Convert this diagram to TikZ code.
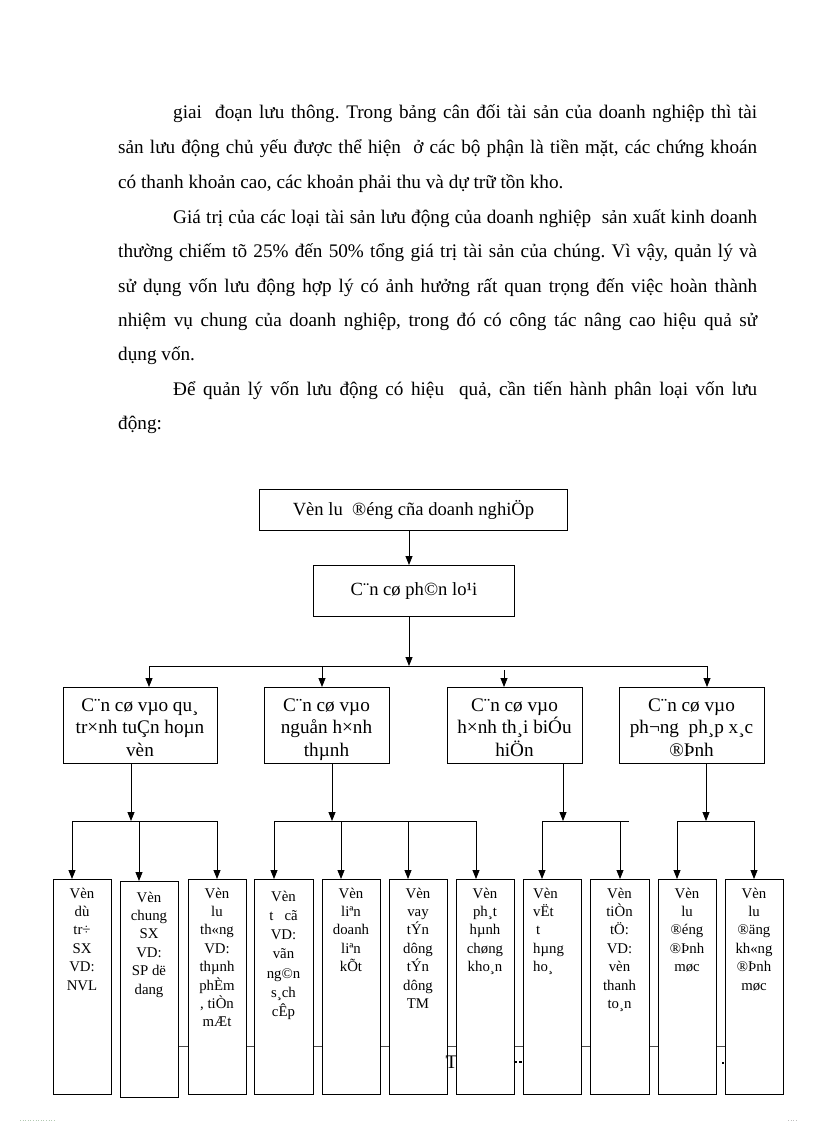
\documentclass[tikz,border=0pt]{standalone}
\usepackage{fontspec}
\setmainfont{Liberation Serif}
\usetikzlibrary{arrows.meta}
\newcommand{\bigf}{\fontsize{19.2}{22.5}\selectfont}
\newcommand{\topf}{\fontsize{18.6}{22.5}\selectfont}
\newcommand{\smf}{\fontsize{14.8}{18.4}\selectfont}
\newcommand{\pline}[2]{\makebox[#1][s]{#2}}
\newcommand{\btx}[1]{\parbox[t]{58pt}{\centering\smf #1}}
\newcommand{\mtx}[1]{\parbox[t]{150pt}{\centering\bigf #1}}
\frenchspacing
\begin{document}
\begin{tikzpicture}[x=1pt,y=-1pt,
  box/.style={draw=black, line width=1pt, fill=white, inner sep=0pt, anchor=north west},
  bigbox/.style={box, font=\topf, align=center},
  para/.style={anchor=base west, inner sep=0pt, font=\bigf},
  btext/.style={anchor=base, inner sep=0pt},
  arr/.style={-{Triangle[length=9pt,width=7pt]}, line width=0.8pt},
  ln/.style={line width=0.8pt}]
\useasboundingbox (0,0) rectangle (816,1123);
\fill[white] (0,0) rectangle (816,1123);

% paragraph text
\node[para] (l1) at (173,119) {\pline{584pt}{giai\ \ đoạn lưu thông. Trong bảng cân đối tài sản của doanh nghiệp thì tài}};
\node[para] (l2) at (118,154) {\pline{639pt}{sản lưu động chủ yếu được thể hiện\ \ ở các bộ phận là tiền mặt, các chứng khoán}};
\node[para] (l3) at (118,189) {có thanh khoản cao, các khoản phải thu và dự trữ tồn kho.};
\node[para] (l4) at (173,223) {\pline{584pt}{Giá trị của các loại tài sản lưu động của doanh nghiệp\ \ sản xuất kinh doanh}};
\node[para] (l5) at (118,257) {\pline{639pt}{thường chiếm tõ 25\% đến 50\% tổng giá trị tài sản của chúng. Vì vậy, quản lý và}};
\node[para] (l6) at (118,292) {\pline{639pt}{sử dụng vốn lưu động hợp lý có ảnh hưởng rất quan trọng đến việc hoàn thành}};
\node[para] (l7) at (118,326) {\pline{639pt}{nhiệm vụ chung của doanh nghiệp, trong đó có công tác nâng cao hiệu quả sử}};
\node[para] (l8) at (118,360) {dụng vốn.};
\node[para] (l9) at (173,395) {\pline{584pt}{Để quản lý vốn lưu động có hiệu\ \ quả, cần tiến hành phân loại vốn lưu}};
\node[para] (l10) at (118,429) {động:};

% footer rule behind the boxes
\draw[line width=1pt, black!70] (170,1046) -- (740,1046);

% top boxes
\node[bigbox, minimum width=308pt, minimum height=41pt] (A) at (259,489) {Vèn lu\ \ ®éng cña doanh nghiÖp};
\node[bigbox, minimum width=201pt, minimum height=51pt] (B) at (313,565) {C¨n cø ph©n lo¹i};

% middle boxes
\node[box, minimum width=154pt, minimum height=76pt] (m1) at (63,687) {};
\node[box, minimum width=125pt, minimum height=76pt] (m2) at (264,687) {};
\node[box, minimum width=135pt, minimum height=76pt] (m3) at (447,687) {};
\node[box, minimum width=145pt, minimum height=76pt] (m4) at (619,687) {};
\node[btext] (mt1) at (140,711) {\mtx{C¨n cø vµo qu¸\\tr×nh tuÇn hoµn\\vèn}};
\node[btext] (mt2) at (326.5,711) {\mtx{C¨n cø vµo\\nguån h×nh\\thµnh}};
\node[btext] (mt3) at (514.5,711) {\mtx{C¨n cø vµo\\h×nh th¸i biÓu\\hiÖn}};
\node[btext] (mt4) at (691.5,711) {\mtx{C¨n cø vµo\\ph¬ng\ \ ph¸p x¸c\\®Þnh}};

% connectors top
\coordinate (a1) at (409,530);
\draw[arr] (A.south -| a1) -- (B.north -| a1);
\coordinate (bj) at (409,666);
\coordinate (busL) at (149,666);
\coordinate (busR) at (707,666);
\coordinate (bus2) at (322,666);
\coordinate (bus3) at (504,670);
\draw[arr] (B.south -| bj) -- (bj);
\draw[ln] (busL) -- (busR);
\draw[arr] (busL) -- (busL |- m1.north);
\draw[arr] (bus2) -- (bus2 |- m2.north);
\draw[arr] (bus3) -- (bus3 |- m3.north);
\draw[arr] (busR) -- (busR |- m4.north);

% bottom boxes
\node[box, minimum width=58pt, minimum height=215pt] (b1) at (53,879) {};
\node[box, minimum width=58pt, minimum height=216pt] (b2) at (120,881) {};
\node[box, minimum width=58pt, minimum height=215pt] (b3) at (188,879) {};
\node[box, minimum width=59pt, minimum height=215pt] (b4) at (254,879) {};
\node[box, minimum width=58pt, minimum height=215pt] (b5) at (322,879) {};
\node[box, minimum width=58pt, minimum height=215pt] (b6) at (389,879) {};
\node[box, minimum width=58pt, minimum height=215pt] (b7) at (456,879) {};
\node[box, minimum width=58pt, minimum height=215pt] (b8) at (523,879) {};
\node[box, minimum width=59pt, minimum height=215pt] (b9) at (590,879) {};
\node[box, minimum width=58pt, minimum height=215pt] (b10) at (658,879) {};
\node[box, minimum width=58pt, minimum height=215pt] (b11) at (725,879) {};

\node[btext] (t1) at (82,898) {\btx{Vèn\\dù\\tr÷\\SX\\VD:\\NVL}};
\node[btext] (t2) at (149,902) {\btx{Vèn\\chung\\SX\\VD:\\SP dë\\dang}};
\node[btext] (t3) at (217,898) {\btx{Vèn\\lu\\th«ng\\VD:\\thµnh\\phÈm\\, tiÒn\\mÆt}};
\node[btext] (t4) at (283.5,901) {\parbox[t]{58pt}{\centering\fontsize{14.8}{19.3}\selectfont Vèn\\t\ \ \ cã\\VD:\\vãn\\ng©n\\s¸ch\\cÊp}};
\node[btext] (t5) at (351,898) {\btx{Vèn\\liªn\\doanh\\liªn\\kÕt}};
\node[btext] (t6) at (418,898) {\btx{Vèn\\vay\\tÝn\\dông\\tÝn\\dông\\TM}};
\node[btext] (t7) at (485,898) {\btx{Vèn\\ph¸t\\hµnh\\chøng\\kho¸n}};
\node[anchor=base west, inner sep=0pt] (t8) at (533,898) {\parbox[t]{46pt}{\raggedright\smf Vèn\\vËt\\\hspace*{3pt}t\\hµng\\ho¸}};
\node[btext] (t9) at (619.5,898) {\btx{Vèn\\tiÒn\\tÖ:\\VD:\\vèn\\thanh\\to¸n}};
\node[btext] (t10) at (687,898) {\btx{Vèn\\lu\\®éng\\®Þnh\\møc}};
\node[btext] (t11) at (754,898) {\btx{Vèn\\lu\\®äng\\kh«ng\\®Þnh\\møc}};

% connectors middle -> buses
\coordinate (j1) at (131,821);
\coordinate (j2) at (332,821);
\coordinate (j3) at (563,821);
\coordinate (j4) at (706,821);
\draw[arr] (m1.south -| j1) -- (j1);
\draw[arr] (m2.south -| j2) -- (j2);
\draw[arr] (m3.south -| j3) -- (j3);
\draw[arr] (m4.south -| j4) -- (j4);

\coordinate (d1) at (72,821);
\coordinate (d2) at (139,821);
\coordinate (d3) at (217,821);
\coordinate (d4) at (274,821);
\coordinate (d5) at (341,821);
\coordinate (d6) at (408,821);
\coordinate (d7) at (476,821);
\coordinate (d8) at (542,821);
\coordinate (d9) at (620,821);
\coordinate (d9e) at (629,821);
\coordinate (d10) at (677,821);
\coordinate (d11) at (754,821);
\draw[ln] (d1) -- (d3);
\draw[ln] (d4) -- (d7);
\draw[ln] (d8) -- (d9e);
\draw[ln] (d10) -- (d11);
\draw[arr] (d1) -- (d1 |- b1.north);
\draw[arr] (d2) -- (d2 |- b2.north);
\draw[arr] (d3) -- (d3 |- b3.north);
\draw[arr] (d4) -- (d4 |- b4.north);
\draw[arr] (d5) -- (d5 |- b5.north);
\draw[arr] (d6) -- (d6 |- b6.north);
\draw[arr] (d7) -- (d7 |- b7.north);
\draw[arr] (d8) -- (d8 |- b8.north);
\draw[arr] (d9) -- (d9 |- b9.north);
\draw[arr] (d10) -- (d10 |- b10.north);
\draw[arr] (d11) -- (d11 |- b11.north);

% footer remnants visible between boxes
\node[anchor=base, inner sep=0pt, font=\bigf] (ft) at (451.5,1068) {T};
\draw[line width=1.4pt] (513.5,1062) -- (516.5,1062) (519,1062) -- (522,1062);
\draw[line width=1.4pt] (722,1063) -- (724,1063);

% faint dots at page foot
\draw[dotted, line width=0.6pt, green!30!black!30] (20,1120) -- (56,1120);
\draw[dotted, line width=0.6pt, black!25] (788,1120) -- (797,1120);
\end{tikzpicture}
\end{document}
